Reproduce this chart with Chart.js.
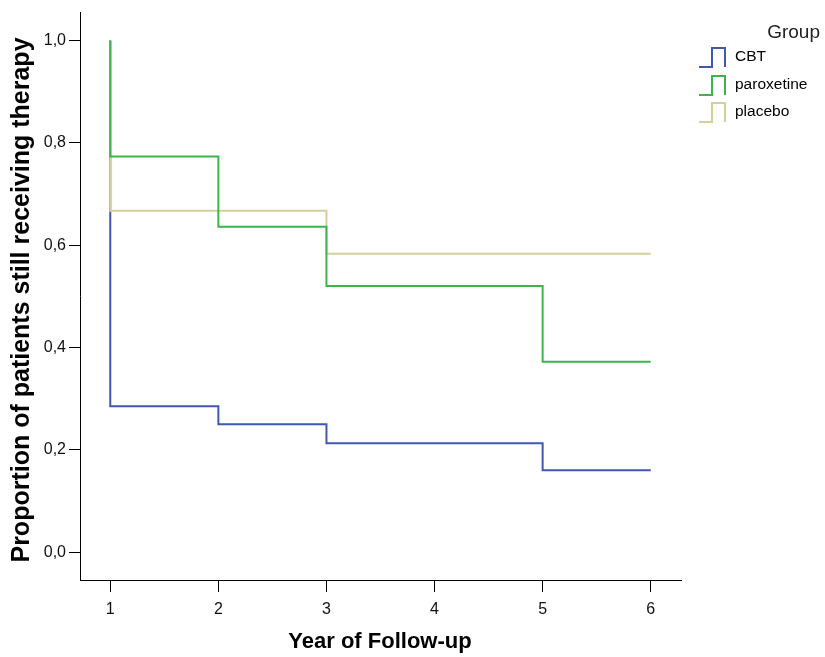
<!DOCTYPE html>
<html>
<head>
<meta charset="utf-8">
<script src="https://cdn.jsdelivr.net/npm/chart.js@4/dist/chart.umd.min.js"></script>
<style>
    html, body { margin: 0; padding: 0; background: #fff; }
    #wrap { width: 825px; height: 657px; }
</style>
</head>
<body>
<div id="wrap"><canvas id="km-chart" width="825" height="657"></canvas></div>
<script>
(function () {

    // tick labels
    var xTicks = [1, 2, 3, 4, 5, 6];
    var yTicks = [0, 0.2, 0.4, 0.6, 0.8, 1.0];

    var groups = ['CBT', 'paroxetine', 'placebo'];
    var colors = ['#3f58b4', '#3cb54a', '#d6cf9a'];

    // survival curves: year of each drop and the proportion after it
    var startYear = 1;
    var endYear = 6;
    var startValue = 1.0;

    var cbtYears = [1, 2, 3, 5];
    var cbtValues = [0.285, 0.250, 0.213, 0.160];

    var paroxetineYears = [1, 2, 3, 5];
    var paroxetineValues = [0.773, 0.636, 0.520, 0.372];

    var placeboYears = [1, 3];
    var placeboValues = [0.667, 0.583];

    function buildSteps(years, values) {
        var pts = [{x: startYear, y: startValue}];
        for (var i = 0; i < years.length; i++) {
            pts.push({x: years[i], y: values[i]});
        }
        pts.push({x: endYear, y: values[values.length - 1]});
        return pts;
    }

    var series = [
        buildSteps(cbtYears, cbtValues),
        buildSteps(paroxetineYears, paroxetineValues),
        buildSteps(placeboYears, placeboValues)
    ];

    // green on top, then placebo, then CBT
    var drawOrder = [2, 0, 1];

    var datasets = [];
    for (var i = 0; i < groups.length; i++) {
        datasets.push({
            label: groups[i],
            data: series[i],
            borderColor: colors[i],
            backgroundColor: colors[i],
            borderWidth: 2,
            pointRadius: 0,
            stepped: true,
            fill: false,
            order: drawOrder[i]
        });
    }

    var fontFamily = '"Liberation Sans", Arial, sans-serif';

    // titles and the step-shaped legend
    var decorPlugin = {
        id: 'decor',
        afterDraw: function (chart) {
            var ctx = chart.ctx;
            ctx.save();
            ctx.fillStyle = '#000';

            ctx.font = 'bold 22px ' + fontFamily;
            ctx.textAlign = 'center';
            ctx.textBaseline = 'middle';
            ctx.fillText('Year of Follow-up', 380, 642);

            ctx.save();
            ctx.translate(22, 300);
            ctx.rotate(-Math.PI / 2);
            ctx.font = 'bold 25px ' + fontFamily;
            ctx.fillText('Proportion of patients still receiving therapy', 0, 0);
            ctx.restore();

            ctx.font = '19px ' + fontFamily;
            ctx.textAlign = 'right';
            ctx.fillStyle = '#222';
            ctx.fillText('Group', 820, 33);

            var rowY = [57, 85, 112];
            ctx.font = '15.5px ' + fontFamily;
            ctx.textAlign = 'left';
            for (var i = 0; i < groups.length; i++) {
                var cy = rowY[i];
                ctx.strokeStyle = colors[i];
                ctx.lineWidth = 2;
                ctx.beginPath();
                ctx.moveTo(699, cy + 10);
                ctx.lineTo(712, cy + 10);
                ctx.lineTo(712, cy - 9);
                ctx.lineTo(725, cy - 9);
                ctx.lineTo(725, cy + 10);
                ctx.stroke();
                ctx.fillStyle = '#000';
                ctx.fillText(groups[i], 735, cy);
            }
            ctx.restore();
        }
    };

    var ctx = document.getElementById('km-chart').getContext('2d');
    new Chart(ctx, {
        type: 'line',
        data: { datasets: datasets },
        options: {
            responsive: false,
            animation: false,
            layout: { padding: { left: 0, top: 8, right: 144, bottom: 0 } },
            plugins: {
                legend: { display: false },
                tooltip: { enabled: false }
            },
            scales: {
                x: {
                    type: 'linear',
                    min: 0.72,
                    max: 6.28,
                    afterFit: function (scale) { scale.height = 77; },
                    afterBuildTicks: function (scale) {
                        scale.ticks = xTicks.map(function (v) { return {value: v}; });
                    },
                    grid: {
                        drawOnChartArea: false,
                        drawTicks: true,
                        tickLength: 12,
                        color: '#000'
                    },
                    border: { display: true, color: '#000', width: 1 },
                    ticks: {
                        color: '#111',
                        padding: 8,
                        font: { family: fontFamily, size: 16 },
                        maxRotation: 0
                    }
                },
                y: {
                    type: 'linear',
                    min: -0.0545,
                    max: 1.0545,
                    afterFit: function (scale) { scale.width = 80; },
                    afterBuildTicks: function (scale) {
                        scale.ticks = yTicks.map(function (v) { return {value: v}; });
                    },
                    grid: {
                        drawOnChartArea: false,
                        drawTicks: true,
                        tickLength: 11,
                        color: '#000'
                    },
                    border: { display: true, color: '#000', width: 1 },
                    ticks: {
                        color: '#111',
                        padding: 3,
                        font: { family: fontFamily, size: 16 },
                        callback: function (v) { return v.toFixed(1).replace('.', ','); }
                    }
                }
            }
        },
        plugins: [decorPlugin]
    });

})();
</script>
</body>
</html>
